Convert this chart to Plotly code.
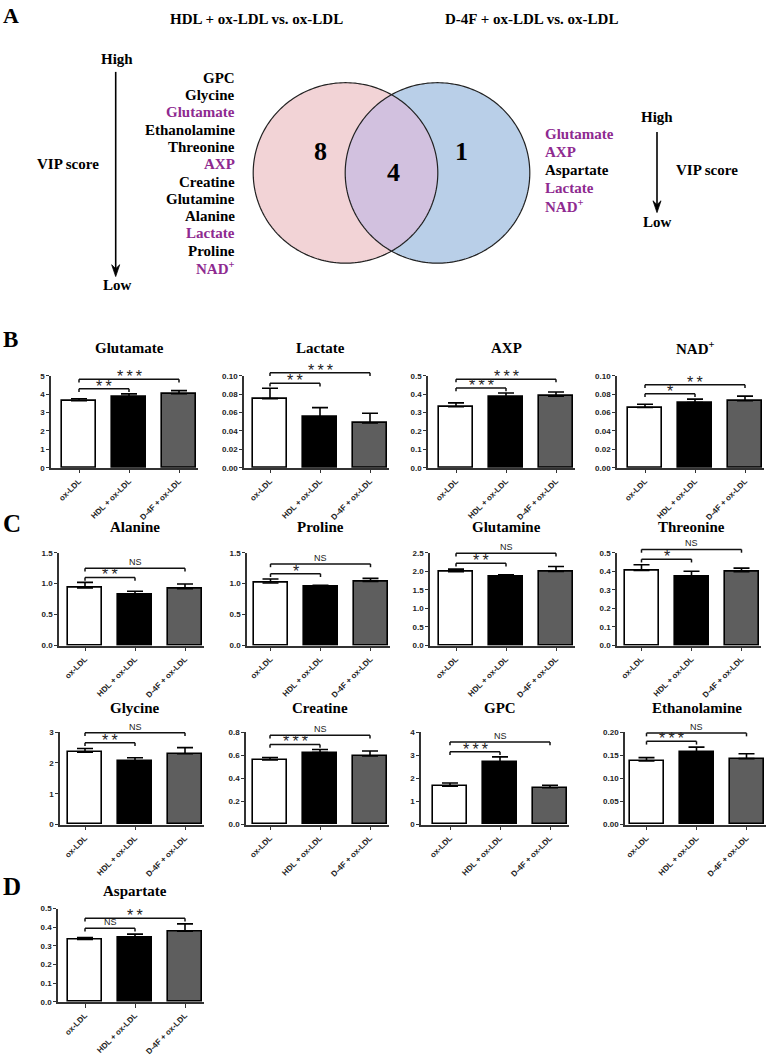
import numpy as np
import plotly.graph_objects as go

W, H = 772, 1056

# ---------------- data ----------------
groups = ["ox-LDL", "HDL + ox-LDL", "D-4F + ox-LDL"]

# Panel A: metabolites ranked by VIP score (high -> low)
hdl_vs_oxldl = ["GPC", "Glycine", "Glutamate", "Ethanolamine", "Threonine", "AXP",
                "Creatine", "Glutamine", "Alanine", "Lactate", "Proline", "NAD<sup>+</sup>"]
d4f_vs_oxldl = ["Glutamate", "AXP", "Aspartate", "Lactate", "NAD<sup>+</sup>"]
venn_counts = [8, 4, 1]  # HDL only, shared, D-4F only

# Panels B-D: mean and error per group (ox-LDL, HDL + ox-LDL, D-4F + ox-LDL)
glutamate_mean = [3.65, 3.87, 4.03]
glutamate_err = [0.11, 0.15, 0.17]
lactate_mean = [0.0753, 0.0551, 0.0488]
lactate_err = [0.0113, 0.0103, 0.0106]
axp_mean = [0.332, 0.386, 0.389]
axp_err = [0.021, 0.021, 0.023]
nad_mean = [0.0656, 0.0709, 0.0730]
nad_err = [0.0035, 0.0038, 0.0050]
alanine_mean = [0.931, 0.824, 0.920]
alanine_err = [0.090, 0.054, 0.075]
proline_mean = [1.011, 0.947, 1.037]
proline_err = [0.063, 0.026, 0.048]
glutamine_mean = [1.989, 1.849, 1.998]
glutamine_err = [0.070, 0.053, 0.132]
threonine_mean = [0.405, 0.373, 0.398]
threonine_err = [0.030, 0.027, 0.019]
glycine_mean = [2.349, 2.071, 2.295]
glycine_err = [0.117, 0.096, 0.200]
creatine_mean = [0.560, 0.622, 0.594]
creatine_err = [0.020, 0.028, 0.042]
gpc_mean = [1.66, 2.72, 1.59]
gpc_err = [0.14, 0.21, 0.11]
ethanolamine_mean = [0.1376, 0.1574, 0.1426]
ethanolamine_err = [0.0071, 0.0100, 0.0106]
aspartate_mean = [0.335, 0.344, 0.379]
aspartate_err = [0.009, 0.019, 0.039]

# significance vs ox-LDL: [HDL + ox-LDL, D-4F + ox-LDL]
glutamate_sig = ["**", "***"]
lactate_sig = ["**", "***"]
axp_sig = ["***", "***"]
nad_sig = ["*", "**"]
alanine_sig = ["**", "NS"]
proline_sig = ["*", "NS"]
glutamine_sig = ["**", "NS"]
threonine_sig = ["*", "NS"]
glycine_sig = ["**", "NS"]
creatine_sig = ["***", "NS"]
gpc_sig = ["***", "NS"]
ethanolamine_sig = ["***", "NS"]
aspartate_sig = ["NS", "**"]

# y tick labels
ticks_0_5 = ["0", "1", "2", "3", "4", "5"]
ticks_0_010 = ["0.00", "0.02", "0.04", "0.06", "0.08", "0.10"]
ticks_0_05 = ["0.0", "0.1", "0.2", "0.3", "0.4", "0.5"]
ticks_0_15 = ["0.0", "0.5", "1.0", "1.5"]
ticks_0_25 = ["0.0", "0.5", "1.0", "1.5", "2.0", "2.5"]
ticks_0_3 = ["0", "1", "2", "3"]
ticks_0_08 = ["0.0", "0.2", "0.4", "0.6", "0.8"]
ticks_0_4 = ["0", "1", "2", "3", "4"]
ticks_0_020 = ["0.00", "0.05", "0.10", "0.15", "0.20"]

charts = [
    ("Glutamate", glutamate_mean, glutamate_err, glutamate_sig, ticks_0_5),
    ("Lactate", lactate_mean, lactate_err, lactate_sig, ticks_0_010),
    ("AXP", axp_mean, axp_err, axp_sig, ticks_0_05),
    ("NAD<sup>+</sup>", nad_mean, nad_err, nad_sig, ticks_0_010),
    ("Alanine", alanine_mean, alanine_err, alanine_sig, ticks_0_15),
    ("Proline", proline_mean, proline_err, proline_sig, ticks_0_15),
    ("Glutamine", glutamine_mean, glutamine_err, glutamine_sig, ticks_0_25),
    ("Threonine", threonine_mean, threonine_err, threonine_sig, ticks_0_05),
    ("Glycine", glycine_mean, glycine_err, glycine_sig, ticks_0_3),
    ("Creatine", creatine_mean, creatine_err, creatine_sig, ticks_0_08),
    ("GPC", gpc_mean, gpc_err, gpc_sig, ticks_0_4),
    ("Ethanolamine", ethanolamine_mean, ethanolamine_err, ethanolamine_sig, ticks_0_020),
    ("Aspartate", aspartate_mean, aspartate_err, aspartate_sig, ticks_0_05),
]

# ---------------- layout geometry (pixels) ----------------
ROWS = {"B": (471.3, 378.0, 350), "C1": (652.0, 557.7, 532),
        "C2": (834.0, 740.0, 716), "D": (1014.3, 919.3, 902)}
# row, axis left px, first bar centre px, bracket levels (short, long) in axis-height fractions
PLACE = [
    ("B", 51, 79, 0.861, 0.964), ("B", 244, 270, 0.919, 1.035),
    ("B", 428, 456, 0.867, 0.965), ("B", 617, 645, 0.807, 0.905),
    ("C1", 59, 85, 0.734, 0.833), ("C1", 247, 270.5, 0.773, 0.879),
    ("C1", 430, 456, 0.887, 0.993), ("C1", 617, 641.5, 0.93, 1.035),
    ("C2", 60, 85, 0.886, 0.993), ("C2", 246, 270, 0.866, 0.965),
    ("C2", 421, 450, 0.787, 0.894), ("C2", 625, 646.5, 0.90, 0.989),
    ("D", 58, 85, 0.789, 0.895),
]
SP = 50.0  # px between bar centres

SERIF = "Liberation Serif"
SANS = "Liberation Sans"
PURPLE = "#8e2a90"
AX = "#333333"


def px(x):
    return x / W


def py(y):
    return 1 - y / H


fig = go.Figure()
shapes = []
annotations = []
layout_axes = {}

for i, ((title, mean, err, sig, tlabels), (row, left, c0, lv_s, lv_l)) in enumerate(zip(charts, PLACE)):
    n = "" if i == 0 else str(i + 1)
    xa, ya = "x" + n, "y" + n
    base, top, ty = ROWS[row]
    xmin = -(c0 - left) / SP
    xmax = 2 + 19 / SP
    right = left + (xmax - xmin) * SP
    tvals = [float(t) for t in tlabels]

    fig.add_trace(go.Bar(
        x=groups, y=mean, width=0.68, xaxis=xa, yaxis=ya, showlegend=False,
        marker=dict(color=["white", "black", "#5e5e5e"], line=dict(color="black", width=1.6)),
        error_y=dict(type="data", array=err, arrayminus=[0, 0, 0], symmetric=False,
                     color="black", thickness=1.6, width=8),
        hoverinfo="skip"))

    layout_axes["xaxis" + n] = dict(
        domain=[px(left), px(right)], range=[xmin, xmax], anchor=ya, type="category",
        showline=True, linecolor=AX, linewidth=1.5, ticks="outside", ticklen=4,
        tickwidth=1.3, tickcolor=AX, tickangle=-45, showgrid=False, zeroline=False,
        tickfont=dict(family=SANS, size=8, color="#222", weight="bold"), fixedrange=True)
    layout_axes["yaxis" + n] = dict(
        domain=[py(base), py(top)], range=[0, tvals[-1]], anchor=xa,
        tickvals=tvals, ticktext=tlabels, showline=True, linecolor=AX, linewidth=1.5,
        ticks="outside", ticklen=3, tickwidth=1.3, tickcolor=AX, showgrid=False,
        zeroline=False, tickfont=dict(family=SANS, size=8, color="#222", weight="bold"),
        fixedrange=True)

    # chart title
    annotations.append(dict(text=title, x=px(c0 + SP), y=py(ty),
                            xref="paper", yref="paper", showarrow=False,
                            font=dict(family=SERIF, size=15, color="black", weight="bold"),
                            xanchor="center", yanchor="middle"))

    # significance brackets
    def fx(v):
        return (v - xmin) / (xmax - xmin)

    leg = 3.3 / (base - top)
    for (a, b, lvl, s) in [(0, 1, lv_s, sig[0]), (0, 2, lv_l, sig[1])]:
        for (x0, y0, x1, y1) in [(fx(a), lvl, fx(b), lvl), (fx(a), lvl, fx(a), lvl - leg),
                                 (fx(b), lvl, fx(b), lvl - leg)]:
            shapes.append(dict(type="line", xref=xa + " domain", yref=ya + " domain",
                               x0=x0, y0=y0, x1=x1, y1=y1,
                               line=dict(color="#111", width=1.5)))
        if s == "NS":
            txt_s, fs, ysh = "NS", 9, -1
        else:
            txt_s, fs, ysh = "\u2009".join(s), 16, -8
        annotations.append(dict(text=txt_s, x=fx((a + b) / 2), y=lvl, xref=xa + " domain",
                                yref=ya + " domain", showarrow=False, xanchor="center",
                                yanchor="bottom", yshift=ysh,
                                font=dict(family=SANS, size=fs, color="#222")))

# ---------------- panel letters ----------------
for letter, (lx, ly, ls) in zip(["A", "B", "C", "D"],
                                [(1, 12, 22), (1, 341, 23), (1, 528, 25), (1, 897, 25)]):
    annotations.append(dict(text=letter, x=px(lx), y=py(ly), xref="paper",
                            yref="paper", showarrow=False, xanchor="left", yanchor="middle",
                            font=dict(family=SERIF, size=ls, color="black", weight="bold")))


# ---------------- panel A ----------------
def txt(s, x, y, anchor="center", color="black", size=15):
    annotations.append(dict(text=s, x=px(x), y=py(y), xref="paper",
                            yref="paper", showarrow=False, xanchor=anchor, yanchor="middle",
                            font=dict(family=SERIF, size=size, color=color, weight="bold")))


txt("HDL + ox-LDL vs. ox-LDL", 256, 15)
txt("D-4F + ox-LDL vs. ox-LDL", 531, 15)

shared = set(hdl_vs_oxldl) & set(d4f_vs_oxldl)
for k, name in enumerate(hdl_vs_oxldl):
    txt(name, 237, 75 + 17.57 * k, anchor="right",
        color=PURPLE if name in shared else "black")
for k, name in enumerate(d4f_vs_oxldl):
    txt(name, 543, 131.7 + 18.3 * k, anchor="left",
        color=PURPLE if name in shared else "black")

# VIP arrows
txt("High", 116.7, 56)
txt("Low", 117.3, 286)
txt("VIP score", 67.7, 163)
txt("High", 657, 115)
txt("Low", 657, 222)
txt("VIP score", 707, 169)
for (ax_x, y_tail, y_tip) in [(115.7, 69, 277), (657, 130, 212)]:
    shapes.append(dict(type="line", xref="paper", yref="paper", x0=px(ax_x), x1=px(ax_x),
                       y0=py(y_tail), y1=py(y_tip - 6), line=dict(color="black", width=1.6)))
    head = (f"M {px(ax_x):.5f},{py(y_tip):.5f} L {px(ax_x - 4):.5f},{py(y_tip - 12):.5f} "
            f"L {px(ax_x):.5f},{py(y_tip - 8):.5f} L {px(ax_x + 4):.5f},{py(y_tip - 12):.5f} Z")
    shapes.append(dict(type="path", path=head, xref="paper", yref="paper",
                       fillcolor="black", line=dict(color="black", width=0.8)))

# Venn diagram
cxL, cxR, cy, rx, ry = 345.5, 437.5, 171.7, 92.3, 91.7


def path_from(xs, ys):
    return "M " + " L ".join(f"{px(x):.5f},{py(y):.5f}" for x, y in zip(xs, ys)) + " Z"


t = np.linspace(0, 2 * np.pi, 241)
left_path = path_from(cxL + rx * np.cos(t), cy + ry * np.sin(t))
right_path = path_from(cxR + rx * np.cos(t), cy + ry * np.sin(t))
a = np.arccos(((cxR - cxL) / 2) / rx)
t1 = np.linspace(-a, a, 80)
t2 = np.linspace(np.pi - a, np.pi + a, 80)
lens_path = path_from(np.concatenate([cxL + rx * np.cos(t1), cxR + rx * np.cos(t2)]),
                      np.concatenate([cy + ry * np.sin(t1), cy + ry * np.sin(t2)]))
for p, fill in [(left_path, "#f2d3d6"), (right_path, "#b9cfe8"), (lens_path, "#d2c1df")]:
    shapes.append(dict(type="path", path=p, xref="paper", yref="paper", fillcolor=fill,
                       line=dict(width=0)))
for p in [left_path, right_path]:
    shapes.append(dict(type="path", path=p, xref="paper", yref="paper",
                       fillcolor="rgba(0,0,0,0)", line=dict(color="#222", width=1.2)))

for val, (vx, vy) in zip(venn_counts, [(320, 150), (393.3, 171.7), (461.7, 150)]):
    annotations.append(dict(text=str(val), x=px(vx), y=py(vy), xref="paper",
                            yref="paper", showarrow=False, xanchor="center", yanchor="middle",
                            font=dict(family=SERIF, size=26, color="black", weight="bold")))

fig.update_layout(
    width=W, height=H, margin=dict(l=0, r=0, t=0, b=0), autosize=False,
    paper_bgcolor="white", plot_bgcolor="white", bargap=0,
    shapes=shapes, annotations=annotations, **layout_axes)

fig.write_html("out.html", config={"displayModeBar": False},
               post_script="document.body.style.margin='0';document.body.style.overflow='hidden';")
